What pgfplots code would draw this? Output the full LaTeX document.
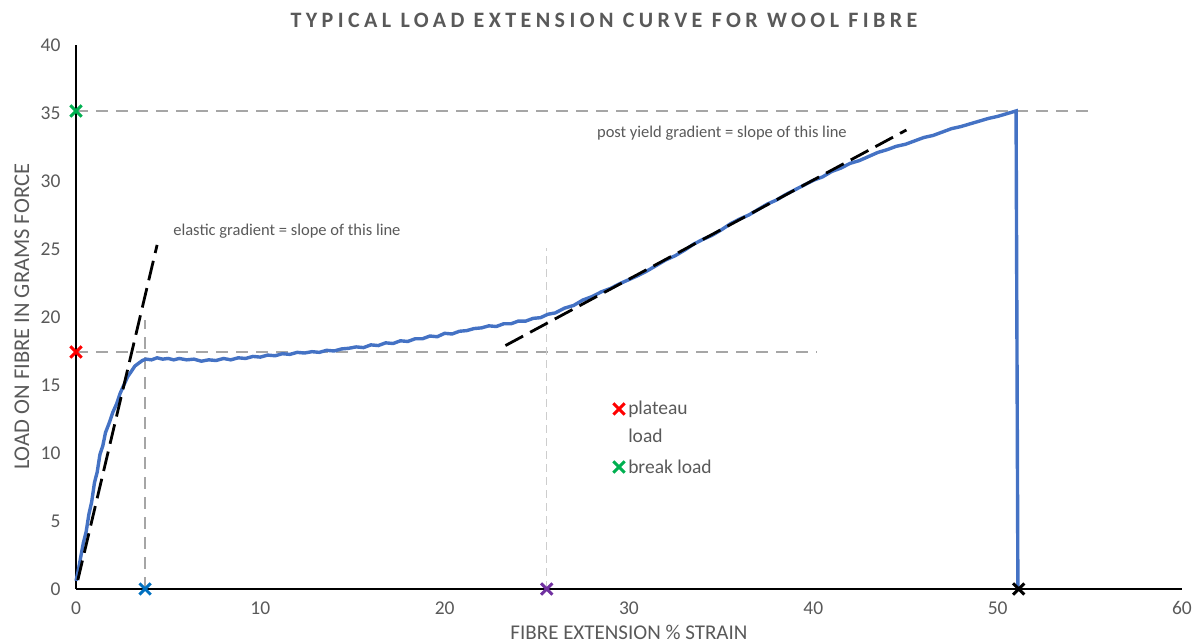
\documentclass[border=0pt]{standalone}
\usepackage{pgfplots}
\pgfplotsset{compat=1.18}
\usepackage{fontspec}
\setmainfont{Carlito}
\definecolor{txtgray}{RGB}{89,89,89}
\definecolor{curveblue}{RGB}{68,114,196}
\definecolor{refgray}{RGB}{166,166,166}
\definecolor{lightgray2}{RGB}{205,205,205}
\definecolor{mkred}{RGB}{255,0,0}
\definecolor{mkgreen}{RGB}{0,176,80}
\definecolor{mkblue}{RGB}{0,112,192}
\definecolor{mkpurple}{RGB}{112,48,160}
\begin{document}
\begin{tikzpicture}
\useasboundingbox (-76pt,-55pt) rectangle (1127pt,589pt);
\begin{axis}[
  at={(0pt,0pt)}, anchor=origin,
  width=1106pt, height=544pt, scale only axis,
  xmin=0, xmax=60, ymin=0, ymax=40,
  axis lines=left,
  axis line style={-, line width=2.2pt, black},
  xtick={0,10,...,60}, ytick={0,5,...,40},
  major tick length=0pt,
  /pgf/number format/assume math mode=true,
  tick label style={font=\fontsize{19.5}{22}\selectfont, text=txtgray},
  xticklabel style={yshift=-9pt},
  yticklabel style={xshift=-12pt},
  clip=false,
  mkx/.style={only marks, mark=x, mark size=8pt, mark options={line width=3pt, #1}},
]
% reference lines
\addplot[refgray, line width=1.8pt, dash pattern=on 12pt off 8pt] coordinates {(0,17.43) (40.16,17.43)};
\addplot[refgray, line width=1.8pt, dash pattern=on 12pt off 8pt] coordinates {(3.75,0) (3.75,19.8)};
\addplot[refgray, line width=1.8pt, dash pattern=on 12pt off 8pt] coordinates {(0,35.15) (55.1,35.15)};
\addplot[lightgray2, line width=1.2pt, dash pattern=on 8pt off 5pt] coordinates {(25.54,0) (25.54,25.1)};
% curve
\addplot[curveblue, line width=3.4pt] coordinates {
(0,0.6) (0.1,1.2) (0.25,2.3) (0.4,3.4) (0.55,4.2) (0.7,5.5) (0.85,6.4) (1.0,7.8) (1.15,8.6) (1.3,9.9)
(1.45,10.5) (1.6,11.5) (1.8,12.2) (2.0,13.0) (2.2,13.6) (2.4,14.4) (2.6,15.0) (2.8,15.6) (3.0,16.0)
(3.2,16.4) (3.4,16.6) (3.6,16.8) (3.8,16.9) (4.1,16.85) (4.4,17.0) (4.7,16.9) (5.0,16.95) (5.3,16.85)
(5.6,16.95) (6.0,16.85) (6.4,16.9) (6.8,16.75) (7.2,16.85) (7.6,16.8) (8.0,16.95) (8.4,16.85) (8.8,17.0)
(9.2,16.95) (9.6,17.1) (10,17.05) (10.4,17.2) (10.8,17.15) (11.2,17.3) (11.6,17.25) (12,17.4) (12.4,17.35)
(12.8,17.45) (13.2,17.4) (13.6,17.55) (14,17.5) (14.4,17.65) (14.8,17.7) (15.2,17.8) (15.6,17.75)
(16,17.95) (16.4,17.9) (16.8,18.1) (17.2,18.05) (17.6,18.25) (18,18.2) (18.4,18.4) (18.8,18.4)
(19.2,18.6) (19.6,18.55) (20,18.8) (20.4,18.75) (20.8,18.95) (21.2,19.0) (21.6,19.15) (22,19.2)
(22.4,19.35) (22.8,19.3) (23.2,19.5) (23.6,19.5) (24,19.7) (24.4,19.7) (24.8,19.9) (25.2,19.95)
(25.6,20.2) (26,20.3) (26.5,20.65) (27,20.85) (27.5,21.25) (28,21.5) (28.5,21.85) (29,22.1) (29.5,22.45)
(30,22.75) (30.5,23.05) (31,23.4) (31.5,23.8) (32,24.2) (32.5,24.5) (33,24.9) (33.5,25.35) (34,25.7)
(34.5,26.0) (35,26.4) (35.5,26.85) (36,27.2) (36.5,27.5) (37,27.9) (37.5,28.3) (38,28.6) (38.5,29.0)
(39,29.35) (39.5,29.7) (40,30.05) (40.5,30.3) (41,30.7) (41.5,30.95) (42,31.3) (42.5,31.5) (43,31.8)
(43.5,32.1) (44,32.3) (44.5,32.55) (45,32.7) (45.5,32.95) (46,33.2) (46.5,33.35) (47,33.6) (47.5,33.85)
(48,34.0) (48.5,34.2) (49,34.4) (49.5,34.6) (50,34.75) (50.5,34.95) (51,35.15) (51.1,0)
};
% gradient lines
\addplot[black, line width=2.8pt, dash pattern=on 20pt off 8pt] coordinates {(0.1,0.66) (4.4,25.3)};
\addplot[black, line width=2.8pt, dash pattern=on 20pt off 8pt] coordinates {(23.3,17.9) (45.05,33.75)};
% markers
\addplot[mkx=mkred] coordinates {(0,17.43)};
\addplot[mkx=mkgreen] coordinates {(0,35.15)};
\addplot[mkx=mkblue] coordinates {(3.75,0)};
\addplot[mkx=mkpurple] coordinates {(25.54,0)};
\addplot[mkx=black] coordinates {(51.14,0)};
% legend-like
\addplot[mkx=mkred] coordinates {(29.46,13.24)};
\addplot[mkx=mkgreen] coordinates {(29.46,8.97)};
\node[anchor=west, inner sep=0pt, text=txtgray, font=\fontsize{19.5}{22}\selectfont] at (axis cs:29.95,13.24) {plateau};
\node[anchor=west, inner sep=0pt, text=txtgray, font=\fontsize{19.5}{22}\selectfont] at (axis cs:29.95,11.25) {load};
\node[anchor=west, inner sep=0pt, text=txtgray, font=\fontsize{19.5}{22}\selectfont] at (axis cs:29.95,8.97) {break load};
% annotations
\node[anchor=west, inner sep=0pt, text=txtgray, font=\fontsize{16.5}{20}\selectfont] at (axis cs:5.27,26.3) {elastic gradient = slope of this line};
\node[anchor=west, inner sep=0pt, text=txtgray, font=\fontsize{16.5}{20}\selectfont] at (axis cs:28.26,33.5) {post yield gradient = slope of this line};
\end{axis}
% title and axis labels
\node[text=txtgray, font=\fontsize{22}{25}\selectfont\bfseries\addfontfeatures{LetterSpace=20}] at (528pt,569pt) {TYPICAL LOAD EXTENSION CURVE FOR WOOL FIBRE};
\node[text=txtgray, font=\fontsize{21}{24}\selectfont, anchor=north] at (553pt,-33pt) {FIBRE EXTENSION \% STRAIN};
\node[text=txtgray, font=\fontsize{22.5}{25}\selectfont, rotate=90] at (-54pt,272pt) {LOAD ON FIBRE IN GRAMS FORCE};
\end{tikzpicture}
\end{document}
